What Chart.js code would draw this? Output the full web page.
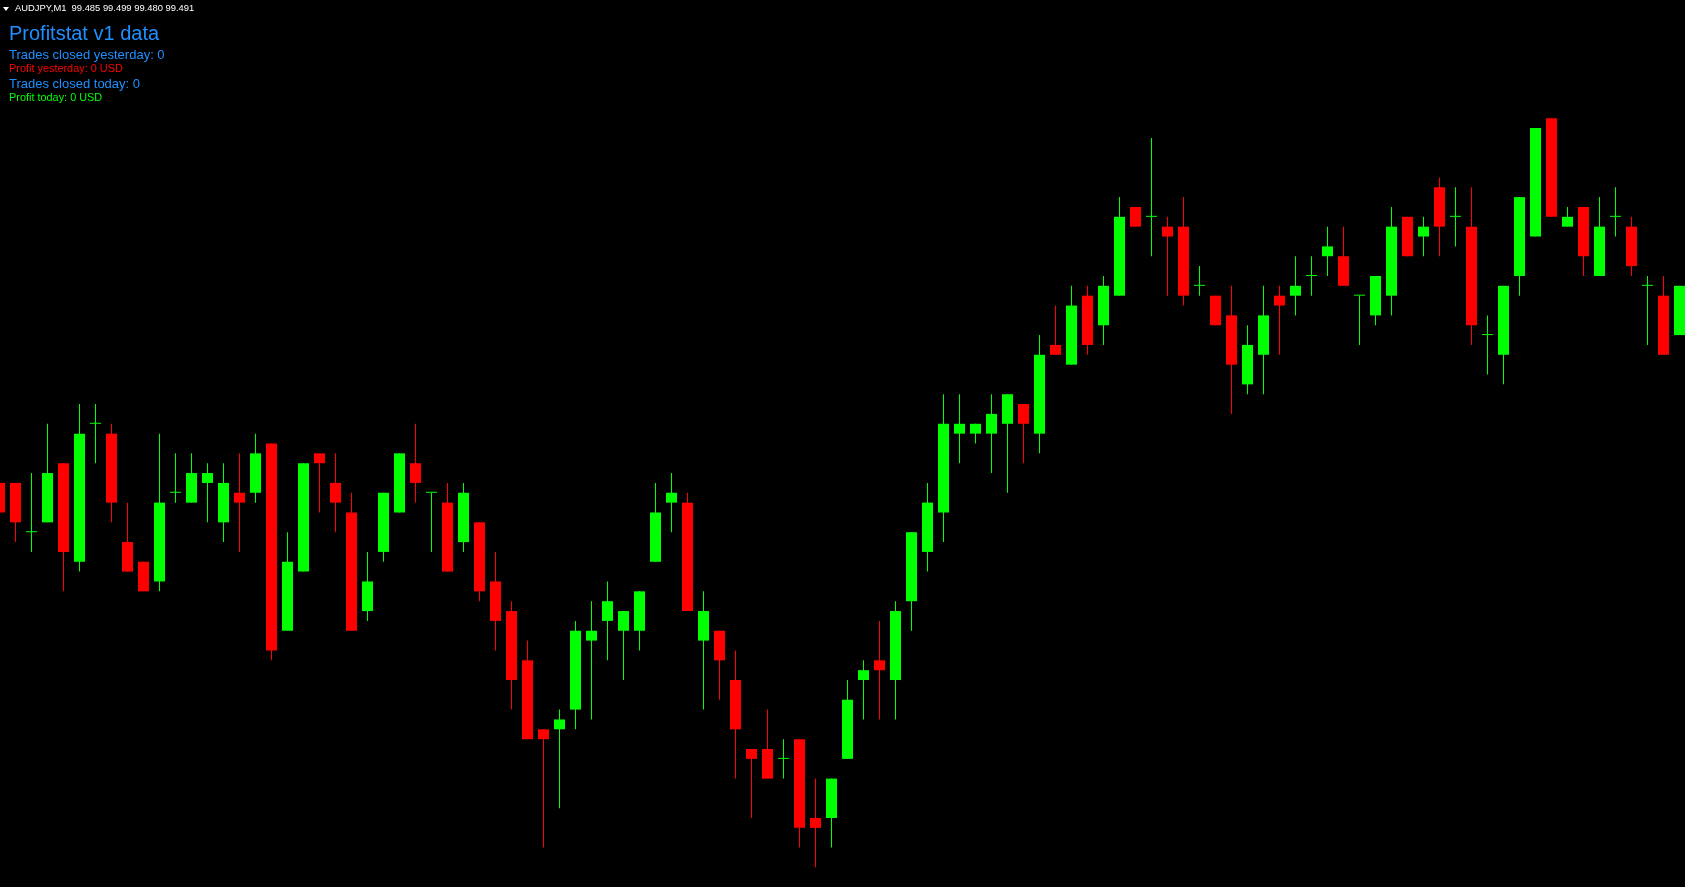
<!DOCTYPE html>
<html>
<head>
<meta charset="utf-8">
<title>AUDJPY,M1</title>
<script src="https://cdn.jsdelivr.net/npm/chart.js@4.4.1/dist/chart.umd.min.js"></script>
<style>
  html, body { margin: 0; padding: 0; background: #000; overflow: hidden; }
  #wrap { position: relative; width: 1685px; height: 887px; background: #000; }
  #chart { position: absolute; left: 0; top: 0; }
  .lbl { position: absolute; left: 9px; white-space: pre; line-height: 1;
         font-family: "Liberation Sans", Arial, sans-serif; }
  #symbol { left: 15px; top: 3.4px; font-size: 9.4px; color: #fff; }
  #arrow { position: absolute; left: 2.5px; top: 7px; width: 0; height: 0;
           border-left: 3px solid transparent; border-right: 3px solid transparent;
           border-top: 4px solid #fff; }
  #title { top: 22.6px; font-size: 20px; color: #1e90ff; }
  #tradesY { top: 48.3px; font-size: 13px; color: #1e90ff; }
  #profitY { top: 62.8px; font-size: 10.9px; color: #ff0000; }
  #tradesT { top: 77.3px; font-size: 13px; color: #1e90ff; }
  #profitT { top: 92.4px; font-size: 10.9px; color: #00ff00; }
</style>
</head>
<body>
<div id="wrap">
  <canvas id="chart" width="1685" height="887"></canvas>
  <div id="arrow"></div>
  <div class="lbl" id="symbol"></div>
  <div class="lbl" id="title"></div>
  <div class="lbl" id="tradesY"></div>
  <div class="lbl" id="profitY"></div>
  <div class="lbl" id="tradesT"></div>
  <div class="lbl" id="profitT"></div>
</div>
<script>
// AUDJPY M1 bars, oldest on the left
const opens = [
  99.471, 99.471, 99.466, 99.467, 99.473, 99.463, 99.477, 99.476, 99.465, 99.463,
  99.461, 99.470, 99.469, 99.471, 99.467, 99.470, 99.470, 99.475, 99.456, 99.462,
  99.474, 99.471, 99.468, 99.458, 99.464, 99.468, 99.473, 99.470, 99.469, 99.465,
  99.467, 99.461, 99.458, 99.453, 99.446, 99.446, 99.448, 99.455, 99.457, 99.456,
  99.456, 99.463, 99.469, 99.469, 99.455, 99.456, 99.451, 99.444, 99.444, 99.443,
  99.445, 99.437, 99.437, 99.443, 99.451, 99.453, 99.451, 99.459, 99.464, 99.468,
  99.476, 99.476, 99.476, 99.477, 99.479, 99.476, 99.485, 99.483, 99.490, 99.487,
  99.490, 99.499, 99.498, 99.497, 99.497, 99.491, 99.490, 99.488, 99.481, 99.484,
  99.490, 99.490, 99.492, 99.494, 99.494, 99.490, 99.488, 99.490, 99.498, 99.496,
  99.501, 99.498, 99.497, 99.486, 99.484, 99.492, 99.496, 99.508, 99.497, 99.499,
  99.492, 99.498, 99.497, 99.491, 99.490, 99.486
];
const highs = [
  99.471, 99.471, 99.472, 99.477, 99.473, 99.479, 99.479, 99.477, 99.469, 99.463,
  99.476, 99.474, 99.474, 99.473, 99.473, 99.474, 99.476, 99.475, 99.466, 99.473,
  99.474, 99.474, 99.470, 99.464, 99.470, 99.474, 99.477, 99.470, 99.471, 99.471,
  99.467, 99.464, 99.459, 99.455, 99.446, 99.448, 99.457, 99.459, 99.461, 99.458,
  99.460, 99.471, 99.472, 99.470, 99.460, 99.456, 99.454, 99.444, 99.448, 99.445,
  99.445, 99.441, 99.441, 99.451, 99.453, 99.457, 99.459, 99.466, 99.471, 99.480,
  99.480, 99.477, 99.480, 99.480, 99.479, 99.486, 99.489, 99.491, 99.491, 99.492,
  99.500, 99.499, 99.506, 99.498, 99.500, 99.493, 99.490, 99.491, 99.487, 99.491,
  99.491, 99.494, 99.494, 99.497, 99.497, 99.490, 99.492, 99.499, 99.498, 99.498,
  99.502, 99.501, 99.501, 99.488, 99.491, 99.500, 99.507, 99.508, 99.499, 99.499,
  99.500, 99.501, 99.498, 99.492, 99.492, 99.491
];
const lows = [
  99.468, 99.465, 99.464, 99.467, 99.460, 99.462, 99.473, 99.467, 99.462, 99.460,
  99.460, 99.469, 99.469, 99.467, 99.465, 99.464, 99.469, 99.453, 99.456, 99.462,
  99.468, 99.466, 99.456, 99.457, 99.463, 99.468, 99.469, 99.464, 99.462, 99.464,
  99.459, 99.454, 99.448, 99.445, 99.434, 99.438, 99.446, 99.447, 99.453, 99.451,
  99.454, 99.463, 99.466, 99.458, 99.448, 99.449, 99.441, 99.437, 99.441, 99.441,
  99.434, 99.432, 99.434, 99.443, 99.447, 99.447, 99.447, 99.456, 99.462, 99.465,
  99.473, 99.475, 99.472, 99.470, 99.473, 99.474, 99.484, 99.483, 99.484, 99.485,
  99.490, 99.497, 99.494, 99.490, 99.489, 99.490, 99.487, 99.478, 99.480, 99.480,
  99.484, 99.488, 99.490, 99.492, 99.491, 99.485, 99.487, 99.488, 99.494, 99.494,
  99.494, 99.495, 99.485, 99.482, 99.481, 99.490, 99.496, 99.498, 99.497, 99.492,
  99.492, 99.496, 99.492, 99.485, 99.484, 99.486
];
const closes = [
  99.468, 99.467, 99.466, 99.472, 99.464, 99.476, 99.477, 99.469, 99.462, 99.460,
  99.469, 99.470, 99.472, 99.472, 99.471, 99.469, 99.474, 99.454, 99.463, 99.473,
  99.473, 99.469, 99.456, 99.461, 99.470, 99.474, 99.471, 99.470, 99.462, 99.470,
  99.460, 99.457, 99.451, 99.445, 99.445, 99.447, 99.456, 99.456, 99.459, 99.458,
  99.460, 99.468, 99.470, 99.458, 99.458, 99.453, 99.446, 99.443, 99.441, 99.443,
  99.436, 99.436, 99.441, 99.449, 99.452, 99.452, 99.458, 99.466, 99.469, 99.477,
  99.477, 99.477, 99.478, 99.480, 99.477, 99.484, 99.484, 99.489, 99.485, 99.491,
  99.498, 99.497, 99.498, 99.496, 99.490, 99.491, 99.487, 99.483, 99.485, 99.488,
  99.489, 99.491, 99.492, 99.495, 99.491, 99.490, 99.492, 99.497, 99.494, 99.497,
  99.497, 99.498, 99.487, 99.486, 99.491, 99.500, 99.507, 99.498, 99.498, 99.494,
  99.497, 99.498, 99.493, 99.491, 99.484, 99.491
];

const symbolLine = 'AUDJPY,M1  99.485 99.499 99.480 99.491';
const panelLines = {
  title: 'Profitstat v1 data',
  tradesY: 'Trades closed yesterday: 0',
  profitY: 'Profit yesterday: 0 USD',
  tradesT: 'Trades closed today: 0',
  profitT: 'Profit today: 0 USD'
};

const BULL = '#00ff00';
const BEAR = '#ff0000';

// visible price window and bar window of the chart
const priceMin = 99.430;
const priceMax = 99.520;
const barMin = 0.03125;
const barMax = 105.34375;

document.getElementById('symbol').textContent = symbolLine;
Object.keys(panelLines).forEach(k => {
  document.getElementById(k).textContent = panelLines[k];
});

const colors = opens.map((o, i) => closes[i] >= o ? BULL : BEAR);

const wicks = lows.map((l, i) => ({ x: i, y: [l, highs[i]] }));
const bodies = opens.map((o, i) => ({ x: i, y: [o, closes[i]] }));

new Chart(document.getElementById('chart'), {
  type: 'bar',
  data: {
    datasets: [
      {
        data: wicks,
        backgroundColor: colors,
        barThickness: 1,
        grouped: false,
        borderWidth: 0,
        inflateAmount: 0,
        order: 2
      },
      {
        data: bodies,
        backgroundColor: colors,
        barThickness: 11,
        minBarLength: 1,
        grouped: false,
        borderWidth: 0,
        inflateAmount: 0,
        order: 1
      }
    ]
  },
  options: {
    responsive: false,
    animation: false,
    events: [],
    layout: { padding: 0 },
    plugins: { legend: { display: false }, tooltip: { enabled: false } },
    scales: {
      x: { type: 'linear', min: barMin, max: barMax, offset: false, display: false },
      y: { min: priceMin, max: priceMax, display: false }
    }
  }
});
</script>
</body>
</html>
